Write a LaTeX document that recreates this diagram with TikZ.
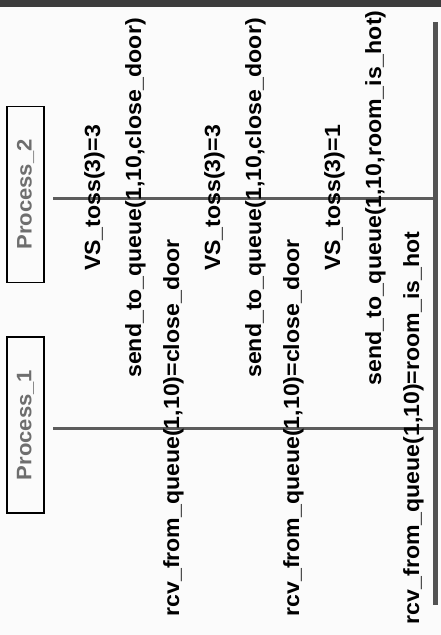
\documentclass[tikz,border=0pt]{standalone}
\usepackage{fontspec}
\usepackage{tikz}
\usetikzlibrary{positioning}
\newfontfamily\msgfont[FakeStretch=1.05]{Liberation Sans}
\definecolor{lineGray}{HTML}{5C5C5C}
\definecolor{procGray}{HTML}{6E6E6E}
\definecolor{topGray}{HTML}{3C3C3C}
\definecolor{paper}{HTML}{FBFBFB}

\begin{document}
\begin{tikzpicture}
  [
    x=1pt, y=-1pt,
    proc/.style={draw=black, line width=1.3pt, rotate=90,
      minimum width=176pt, minimum height=37pt, inner sep=0pt,
      text=procGray, font=\msgfont\bfseries\fontsize{21}{21}\selectfont},
    msg/.style={rotate=90, anchor=base, inner sep=0pt,
      font=\msgfont\bfseries\fontsize{22}{22}\selectfont},
    life/.style={draw=lineGray, line width=3pt},
    bar/.style={draw=lineGray!90!black, line width=5pt}
  ]
  \useasboundingbox [fill=paper] (0,0) rectangle (441,635);
  \fill [topGray] (0,0) rectangle (441,7);

  \node (p2) at (25.5,194.5) [proc] {Process\_2};
  \node (p1) at (25.5,425)   [proc] {Process\_1};

  \coordinate (barTop) at (435.5,22);
  \coordinate (barBot) at (435.5,605);
  \coordinate (l2) at (53,198);
  \coordinate (l1) at (53,428);

  \draw [life] (l2) -- (l2 -| barTop);
  \draw [life] (l1) -- (l1 -| barTop);
  \draw [bar] (barTop) -- (barBot);

  \node (t1) at (100,198) [msg] {VS\_toss(3)=3};
  \node (s1) at (141,198) [msg] {send\_to\_queue(1,10,close\_door)};
  \node (r1) at (179,428) [msg] {rcv\_from\_queue(1,10)=close\_door};
  \node (t2) at (220,198) [msg] {VS\_toss(3)=3};
  \node (s2) at (261,198) [msg] {send\_to\_queue(1,10,close\_door)};
  \node (r2) at (299,428) [msg] {rcv\_from\_queue(1,10)=close\_door};
  \node (t3) at (340,198) [msg] {VS\_toss(3)=1};
  \node (s3) at (381,198) [msg] {send\_to\_queue(1,10,room\_is\_hot)};
  \node (r3) at (419,428) [msg] {rcv\_from\_queue(1,10)=room\_is\_hot};
\end{tikzpicture}
\end{document}
